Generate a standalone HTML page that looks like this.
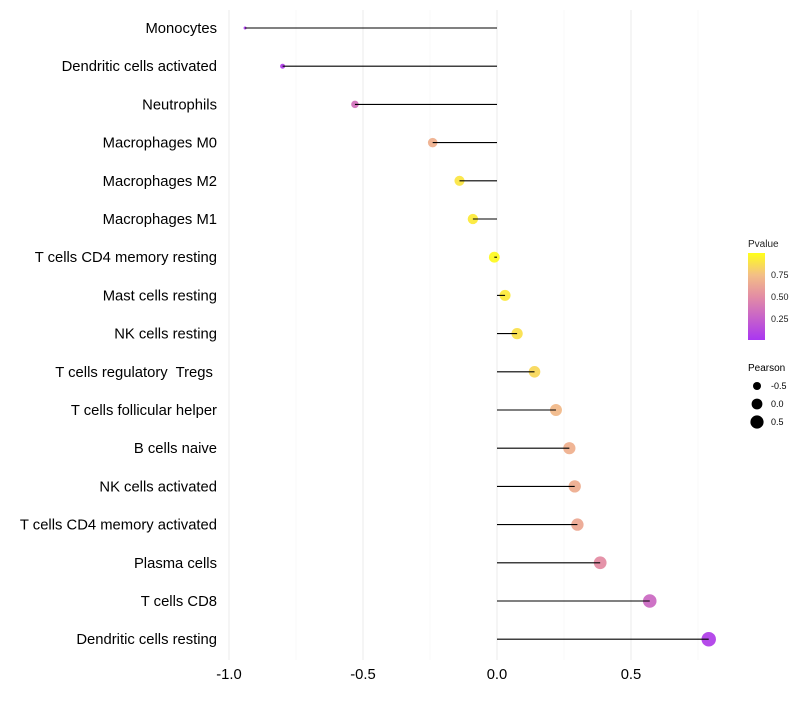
<!DOCTYPE html>
<html><head><meta charset="utf-8"><style>
body{margin:0;background:#fff;font-family:"Liberation Sans",sans-serif}
text{white-space:pre}
</style></head><body>
<svg id="chart" width="800" height="700" xmlns="http://www.w3.org/2000/svg">
<defs><linearGradient id="pg" x1="0" y1="1" x2="0" y2="0">
<stop offset="0" stop-color="#a020f0"/><stop offset="0.5" stop-color="#e0809a"/><stop offset="0.75" stop-color="#f2b878"/><stop offset="1" stop-color="#ffff00"/>
</linearGradient></defs>
<g id="grid"></g><g id="points"></g><g id="stems"></g><g id="labels"></g>
<g font-size="9" fill="#222">
<text x="748" y="247" font-size="10">Pvalue</text>
<rect x="748" y="253" width="17" height="87" fill="url(#pg)" opacity="0.9"/>
<text x="771" y="278">0.75</text><text x="771" y="300">0.50</text><text x="771" y="322">0.25</text>
</g>
<g font-size="9" fill="#000">
<text x="748" y="371" font-size="10">Pearson</text>
<circle cx="757" cy="386" r="4"/><text x="771" y="389">-0.5</text>
<circle cx="757" cy="404" r="5.4"/><text x="771" y="407">0.0</text>
<circle cx="757" cy="422" r="6.6"/><text x="771" y="425">0.5</text>
</g>
</svg>
<script>
const categories=["Monocytes","Dendritic cells activated","Neutrophils","Macrophages M0","Macrophages M2","Macrophages M1","T cells CD4 memory resting","Mast cells resting","NK cells resting","T cells regulatory  Tregs ","T cells follicular helper","B cells naive","NK cells activated","T cells CD4 memory activated","Plasma cells","T cells CD8","Dendritic cells resting"];
const pearson=[-0.94,-0.80,-0.53,-0.24,-0.14,-0.09,-0.01,0.03,0.075,0.14,0.22,0.27,0.29,0.30,0.385,0.57,0.79];
const pvalue=[0.02,0.06,0.35,0.68,0.9,0.92,0.98,0.92,0.88,0.85,0.72,0.68,0.66,0.64,0.5,0.3,0.06];
const xTicks=[-1.0,-0.5,0.0,0.5];
const xTickLabels=["-1.0","-0.5","0.0","0.5"];
const NS="http://www.w3.org/2000/svg";
const xs=v=>497+v*268;
const ys=i=>28+i*38.2;
const rs=v=>Math.sqrt(2.25+29*(v+0.94));
function col(p){
 const st=[[0,[160,32,240]],[0.5,[224,128,154]],[0.75,[242,184,120]],[1,[255,255,0]]];
 for(let k=1;k<st.length;k++){if(p<=st[k][0]){const a=st[k-1],b=st[k],t=(p-a[0])/(b[0]-a[0]);return 'rgb('+a[1].map((c,j)=>Math.round(c+(b[1][j]-c)*t)).join(',')+')';}}
 return 'rgb(255,255,0)';
}
function mk(t,at,parent){const e=document.createElementNS(NS,t);for(const k in at)e.setAttribute(k,at[k]);parent.appendChild(e);return e;}
const grid=document.getElementById('grid'),points=document.getElementById('points'),stems=document.getElementById('stems'),labels=document.getElementById('labels');
[-0.75,-0.25,0.25,0.75].forEach(v=>{const l=mk('line',{x1:xs(v),x2:xs(v),y1:10,y2:660,stroke:'#f4f4f4','stroke-width':0.6},grid);

});
xTicks.forEach((v,i)=>{const l=mk('line',{x1:xs(v),x2:xs(v),y1:10,y2:660,stroke:'#ebebeb','stroke-width':1},grid);


const t=mk('text',{x:xs(v),y:679,'text-anchor':'middle','font-size':14.8,fill:'#000'},labels);t.textContent=xTickLabels[i];

});
categories.forEach((c,i)=>{
 const y=ys(i);
 const t=mk('text',{x:217,y:y+5,'text-anchor':'end','font-size':14.8,fill:'#000'},labels);t.textContent=c;
 
 
 const p=mk('circle',{cx:xs(pearson[i]),cy:y,r:rs(pearson[i]),fill:col(pvalue[i]),'fill-opacity':0.85},points);
 
 
 const l=mk('line',{x1:xs(0),x2:xs(pearson[i]),y1:y,y2:y,stroke:'#000','stroke-width':1.1},stems);
 
 
});
</script>
</body></html>
